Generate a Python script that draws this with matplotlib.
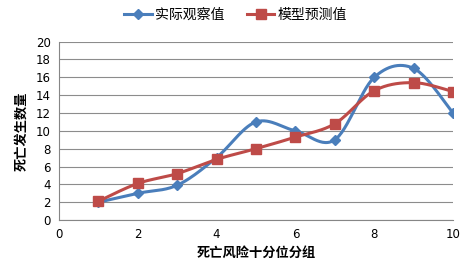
import numpy as np
import matplotlib.pyplot as plt

plt.rcParams['font.family'] = ['Noto Sans CJK SC', 'DejaVu Sans']

groups = [1, 2, 3, 4, 5, 6, 7, 8, 9, 10]
observed = [2.0, 3.0, 3.9, 7.0, 11.0, 10.0, 9.0, 16.0, 17.0, 12.0]
predicted = [2.1, 4.1, 5.2, 6.8, 8.0, 9.3, 10.8, 14.5, 15.4, 14.4]


def smooth(xs, ys, n=30):
    # Excel-like smoothed line (Bezier with Catmull-Rom tangents)
    xs = np.asarray(xs, float)
    ys = np.asarray(ys, float)
    px = np.concatenate([[xs[0]], xs, [xs[-1]]])
    py = np.concatenate([[ys[0]], ys, [ys[-1]]])
    outx, outy = [], []
    for i in range(1, len(px) - 2):
        p0 = np.array([px[i], py[i]])
        p3 = np.array([px[i + 1], py[i + 1]])
        p1 = p0 + (p3 - np.array([px[i - 1], py[i - 1]])) / 6
        p2 = p3 - (np.array([px[i + 2], py[i + 2]]) - p0) / 6
        t = np.linspace(0, 1, n)[:, None]
        pts = ((1 - t) ** 3) * p0 + 3 * ((1 - t) ** 2) * t * p1 + 3 * (1 - t) * t ** 2 * p2 + t ** 3 * p3
        outx.extend(pts[:, 0])
        outy.extend(pts[:, 1])
    return outx, outy


fig = plt.figure(figsize=(4.71, 2.72), dpi=100)
ax = fig.add_axes([0.125, 0.191, 0.837, 0.656])

blue = '#4A7EBB'
red = '#BE4B48'

sx, sy = smooth(groups, observed)
ax.plot(sx, sy, color=blue, lw=2.2, zorder=3)
ax.plot(groups, observed, ls='none', marker='D', ms=5.5, color=blue, zorder=4)
sx, sy = smooth(groups, predicted)
ax.plot(sx, sy, color=red, lw=2.2, zorder=3)
ax.plot(groups, predicted, ls='none', marker='s', ms=7.5, color=red, zorder=4)

ax.set_xlim(0, 10)
ax.set_ylim(0, 20)
ax.set_xticks(range(0, 11, 2))
ax.set_yticks(range(0, 21, 2))
ax.yaxis.grid(True, color='#8c8c8c', lw=0.8)
ax.set_axisbelow(True)
for s in ['top', 'right']:
    ax.spines[s].set_visible(False)
for s in ['left', 'bottom']:
    ax.spines[s].set_color('#868686')
ax.tick_params(length=0, labelsize=8.5, pad=6)
for lab in ax.get_xticklabels() + ax.get_yticklabels():
    lab.set_family('DejaVu Sans')

ax.set_xlabel('死亡风险十分位分组', fontsize=9.5, fontweight='bold', labelpad=3)
ax.set_ylabel('死亡发生数量', fontsize=9.5, fontweight='bold', labelpad=5)

h1 = plt.Line2D([], [], color=blue, lw=2.2, marker='D', ms=5.5)
h2 = plt.Line2D([], [], color=red, lw=2.2, marker='s', ms=7.5)
fig.legend([h1, h2], ['实际观察值', '模型预测值'], loc='center', bbox_to_anchor=(0.5, 0.945),
           ncol=2, frameon=False, fontsize=10, handlelength=2.0, columnspacing=1.6, handletextpad=0.2)

fig.savefig('out.png', dpi=100)
